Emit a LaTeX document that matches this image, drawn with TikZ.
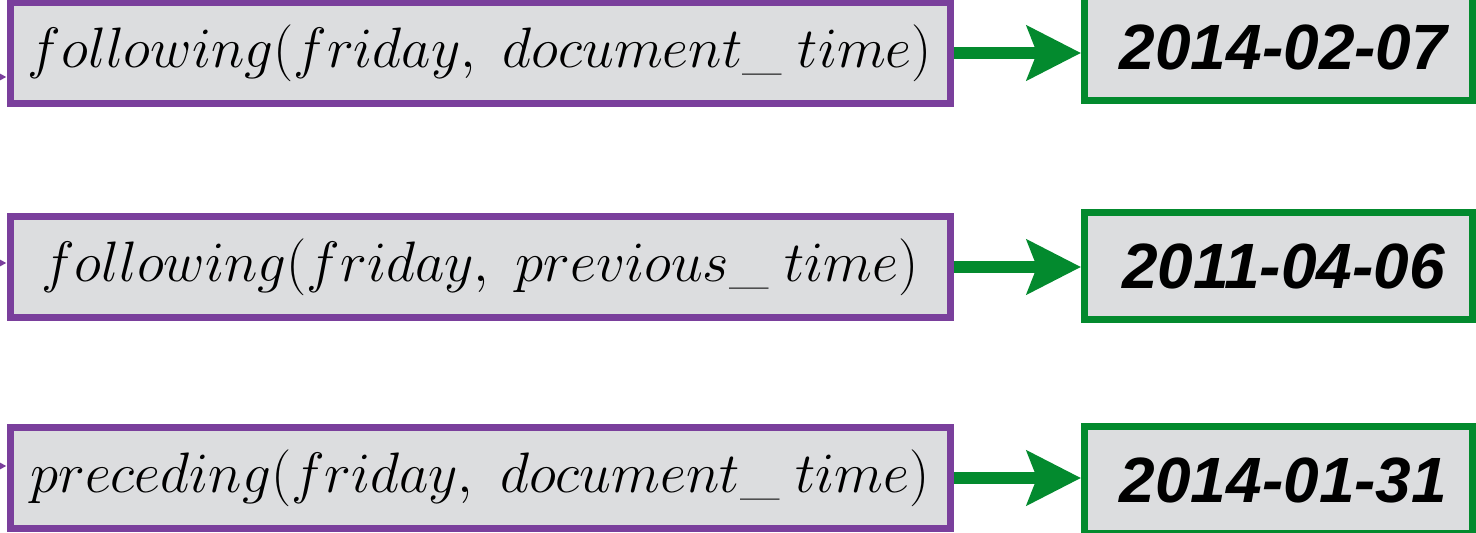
\documentclass[tikz,border=0pt]{standalone}
\usepackage{fix-cm}
\usepackage{fontspec}
\newfontfamily\datefont{Liberation Sans}
\usetikzlibrary{arrows.meta}
\definecolor{exprpurple}{HTML}{7A3F9C}
\definecolor{dategreen}{HTML}{038A2E}
\definecolor{boxgray}{HTML}{DCDDDF}
\tikzset{
	expr/.style={draw=exprpurple,fill=boxgray,line width=3.5pt,minimum width=470pt,minimum height=50.5pt,inner sep=0pt,font=\fontsize{28.5}{30}\selectfont},
	date/.style={draw=dategreen,fill=boxgray,line width=3.5pt,minimum width=194pt,minimum height=53.5pt,inner sep=0pt,font=\datefont\bfseries\itshape\fontsize{32}{34}\selectfont},
	eval/.style={dategreen,line width=6pt,-{Stealth[length=27pt,width=27pt,inset=5pt]}},
	feed/.style={exprpurple,line width=2pt,-{Triangle[length=8pt,width=8pt]}}
}
\begin{document}
\begin{tikzpicture}[x=0.5pt,y=-0.5pt]
		\useasboundingbox (0,0) rectangle (1476,533);
		% expressions and their values
		\node[expr] (q1) at (480,53) {$following(friday,\ document\_\;time)$};
		\node[expr] (q2) at (480,267) {$following(friday,\ previous\_\;time)$};
		\node[expr] (q3) at (480,478) {$preceding(friday,\ document\_\;time)$};
		\node[date] (d1) at (1278.5,47) {\hspace{5pt}2014-02-07};
		\node[date] (d2) at (1278.5,266) {\hspace{5pt}2011-04-06};
		\node[date] (d3) at (1278.5,480) {\hspace{5pt}2014-01-31};
		\draw[eval](q1.east)--(q1.east-|d1.west);
		\draw[eval](q2.east)--(q2.east-|d2.west);
		\draw[eval](q3.east)--(q3.east-|d3.west);
		% incoming from the left
		\coordinate (in1) at (-40,77);
		\coordinate (in2) at (-40,263);
		\coordinate (in3) at (-40,466);
		\draw[feed](in1)--(in1-|q1.west);
		\draw[feed](in2)--(in2-|q2.west);
		\draw[feed](in3)--(in3-|q3.west);
	\end{tikzpicture}
\end{document}
